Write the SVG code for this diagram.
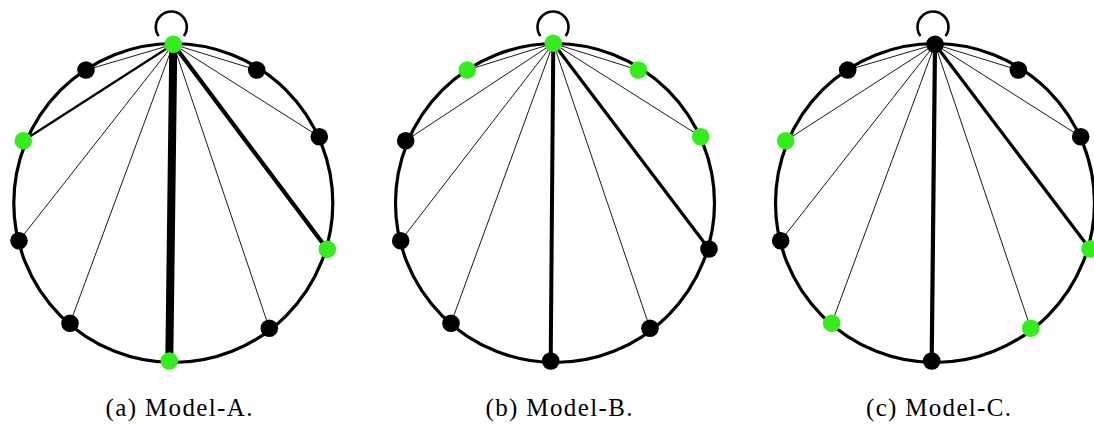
<svg xmlns="http://www.w3.org/2000/svg" width="1094" height="424" viewBox="0 0 1094 424">
<style>
.ring{fill:none;stroke:#000;stroke-width:3.2}
.loop{fill:none;stroke:#000;stroke-width:2.6}
.e{stroke:#000;stroke-linecap:butt}
.t{stroke-width:0.9}
.k{fill:#000}
.g{fill:#33ee1a}
.cap{font-family:"Liberation Serif",serif;font-size:25px;fill:#000;text-anchor:middle}
</style>
<rect width="1094" height="424" fill="#fff"/>

<!-- Model A -->
<g id="modelA">
<circle class="ring" cx="173.3" cy="203" r="159.5"/>
<path class="loop" d="M158.7 36 A15.5 15.5 0 1 1 183.9 36"/>
<g id="edgesA">
<line class="e t" x1="173.3" y1="44.3" x2="86" y2="70"/>
<line class="e" stroke-width="2.2" x1="173.3" y1="44.3" x2="23.3" y2="140.7"/>
<line class="e t" x1="173.3" y1="44.3" x2="19" y2="240.7"/>
<line class="e t" x1="173.3" y1="44.3" x2="70" y2="323.3"/>
<line class="e" stroke-width="8" x1="173.3" y1="44.3" x2="169.3" y2="361"/>
<line class="e t" x1="173.3" y1="44.3" x2="269.3" y2="328.3"/>
<line class="e" stroke-width="4.2" x1="173.3" y1="44.3" x2="327.3" y2="249.3"/>
<line class="e t" x1="173.3" y1="44.3" x2="319.3" y2="136.7"/>
<line class="e t" x1="173.3" y1="44.3" x2="256.7" y2="70"/>
</g>
<g id="nodesA">
<circle class="g" cx="173.3" cy="44.3" r="8.8"/>
<circle class="k" cx="86" cy="70" r="8.8"/>
<circle class="g" cx="23.3" cy="140.7" r="8.8"/>
<circle class="k" cx="19" cy="240.7" r="8.8"/>
<circle class="k" cx="70" cy="323.3" r="8.8"/>
<circle class="g" cx="169.3" cy="361" r="8.8"/>
<circle class="k" cx="269.3" cy="328.3" r="8.8"/>
<circle class="g" cx="327.3" cy="249.3" r="8.8"/>
<circle class="k" cx="319.3" cy="136.7" r="8.8"/>
<circle class="k" cx="256.7" cy="70" r="8.8"/>
</g>
<text class="cap" x="179" y="416" textLength="147" lengthAdjust="spacing">(a) Model-A.</text>
</g>

<!-- Model B -->
<g id="modelB">
<circle class="ring" cx="555" cy="203" r="159.5"/>
<path class="loop" d="M540.4 36 A15.5 15.5 0 1 1 565.6 36"/>
<g id="edgesB">
<line class="e t" x1="553.3" y1="43.3" x2="467.3" y2="70"/>
<line class="e t" x1="553.3" y1="43.3" x2="405.7" y2="140.7"/>
<line class="e t" x1="553.3" y1="43.3" x2="400.7" y2="240.7"/>
<line class="e t" x1="553.3" y1="43.3" x2="451" y2="323.3"/>
<line class="e" stroke-width="4" x1="553.3" y1="43.3" x2="550.7" y2="361"/>
<line class="e t" x1="553.3" y1="43.3" x2="650" y2="328.3"/>
<line class="e" stroke-width="3.2" x1="553.3" y1="43.3" x2="709" y2="249"/>
<line class="e t" x1="553.3" y1="43.3" x2="700.7" y2="136.7"/>
<line class="e t" x1="553.3" y1="43.3" x2="638.3" y2="70"/>
</g>
<g id="nodesB">
<circle class="g" cx="553.3" cy="43.3" r="8.8"/>
<circle class="g" cx="467.3" cy="70" r="8.8"/>
<circle class="k" cx="405.7" cy="140.7" r="8.8"/>
<circle class="k" cx="400.7" cy="240.7" r="8.8"/>
<circle class="k" cx="451" cy="323.3" r="8.8"/>
<circle class="k" cx="550.7" cy="361" r="8.8"/>
<circle class="k" cx="650" cy="328.3" r="8.8"/>
<circle class="k" cx="709" cy="249" r="8.8"/>
<circle class="g" cx="700.7" cy="136.7" r="8.8"/>
<circle class="g" cx="638.3" cy="70" r="8.8"/>
</g>
<text class="cap" x="559" y="416" textLength="147" lengthAdjust="spacing">(b) Model-B.</text>
</g>

<!-- Model C -->
<g id="modelC">
<circle class="ring" cx="935" cy="203" r="159.5"/>
<path class="loop" d="M920.4 36 A15.5 15.5 0 1 1 945.6 36"/>
<g id="edgesC">
<line class="e t" x1="935" y1="44.3" x2="847.7" y2="70"/>
<line class="e t" x1="935" y1="44.3" x2="785.7" y2="140.7"/>
<line class="e t" x1="935" y1="44.3" x2="780.7" y2="240.7"/>
<line class="e t" x1="935" y1="44.3" x2="831.7" y2="323.3"/>
<line class="e" stroke-width="4.2" x1="935" y1="44.3" x2="931.7" y2="361"/>
<line class="e t" x1="935" y1="44.3" x2="1030.7" y2="328.3"/>
<line class="e" stroke-width="3.2" x1="935" y1="44.3" x2="1090" y2="249"/>
<line class="e t" x1="935" y1="44.3" x2="1080.7" y2="136.7"/>
<line class="e t" x1="935" y1="44.3" x2="1018.3" y2="70"/>
</g>
<g id="nodesC">
<circle class="k" cx="935" cy="44.3" r="8.8"/>
<circle class="k" cx="847.7" cy="70" r="8.8"/>
<circle class="g" cx="785.7" cy="140.7" r="8.8"/>
<circle class="k" cx="780.7" cy="240.7" r="8.8"/>
<circle class="g" cx="831.7" cy="323.3" r="8.8"/>
<circle class="k" cx="931.7" cy="361" r="8.8"/>
<circle class="g" cx="1030.7" cy="328.3" r="8.8"/>
<circle class="g" cx="1090" cy="249" r="8.8"/>
<circle class="k" cx="1080.7" cy="136.7" r="8.8"/>
<circle class="k" cx="1018.3" cy="70" r="8.8"/>
</g>
<text class="cap" x="938.5" y="416" textLength="145" lengthAdjust="spacing">(c) Model-C.</text>
</g>
</svg>
